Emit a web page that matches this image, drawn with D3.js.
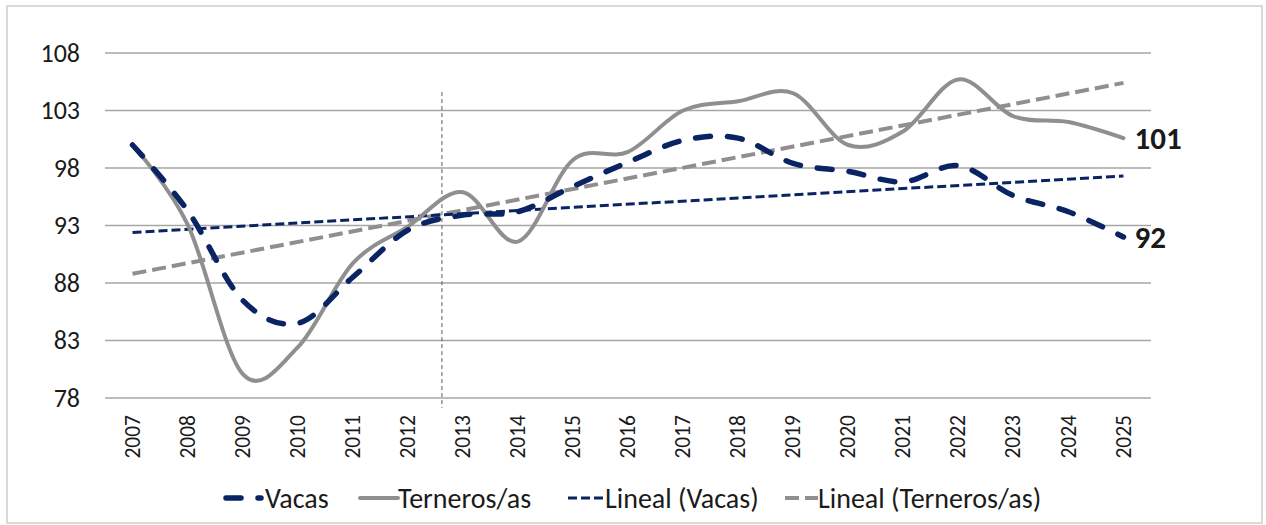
<!DOCTYPE html>
<html>
<head>
<meta charset="utf-8">
<script src="https://cdn.jsdelivr.net/npm/d3@7"></script>
<style>
  body { margin: 0; background: #fff; }
  text { font-family: Carlito, "Open Sans", sans-serif; fill: #1a1a1a; }
</style>
</head>
<body>
<div id="chart"></div>
<script>
let years = [2007, 2008, 2009, 2010, 2011, 2012, 2013, 2014, 2015, 2016, 2017, 2018, 2019, 2020, 2021, 2022, 2023, 2024, 2025];
let vacas = [100, 94.3, 86.5, 84.5, 88.5, 92.6, 93.9, 94.2, 96.4, 98.5, 100.4, 100.6, 98.4, 97.7, 96.8, 98.2, 95.6, 94.2, 92.0];
let terneros = [100, 93.1, 80.1, 82.4, 89.7, 92.9, 95.9, 91.6, 98.7, 99.4, 103.0, 103.8, 104.5, 100.0, 101.2, 105.7, 102.5, 102.0, 100.6];
// trend line ends (Excel linear trendline), first and last year
let linealVacas = [92.4, 97.3];
let linealTerneros = [88.8, 105.4];
let yTicks = [78, 83, 88, 93, 98, 103, 108];
let markerYear = 2012.62;
let endLabels = ['101', '92'];
let legendNames = ['Vacas', 'Terneros/as', 'Lineal (Vacas)', 'Lineal (Terneros/as)'];

let width = 1266, height = 525;
let navy = '#0a2463', gray = '#8f8f8f';

let svg = d3.select('#chart').append('svg')
  .attr('width', width).attr('height', height);

svg.append('rect')
  .attr('x', 7).attr('y', 6).attr('width', 1255).attr('height', 517)
  .attr('fill', '#fff').attr('stroke', '#d9d9d9').attr('stroke-width', 2);

let x = d3.scaleLinear().domain([2006.5, 2025.5]).range([105, 1151]);
let y = d3.scaleLinear().domain([78, 108]).range([398, 53]);

// gridlines
svg.append('g').selectAll('line')
  .data(yTicks).enter().append('line')
  .attr('x1', x(2006.5)).attr('x2', x(2025.5))
  .attr('y1', d => y(d)).attr('y2', d => y(d))
  .attr('stroke', '#a6a6a6').attr('stroke-width', 1.5);

// y labels
svg.append('g').selectAll('text')
  .data(yTicks).enter().append('text')
  .attr('x', 80).attr('y', d => y(d)).attr('dy', '0.34em')
  .attr('text-anchor', 'end')
  .style('font-size', '26px')
  .text(d => d);

// x labels
svg.append('g').selectAll('text')
  .data(years).enter().append('text')
  .attr('transform', d => 'translate(' + x(d) + ',415) rotate(-90)')
  .attr('dy', '0.33em')
  .attr('text-anchor', 'end')
  .style('font-size', '21.5px')
  .text(d => d);

// vertical marker
svg.append('line')
  .attr('x1', x(markerYear)).attr('x2', x(markerYear))
  .attr('y1', y(104.6)).attr('y2', y(78) + 10)
  .attr('stroke', '#595959').attr('stroke-width', 1)
  .attr('stroke-dasharray', '4 3');

let smooth = d3.line()
  .x((d, i) => x(years[i]))
  .y(d => y(d))
  .curve(d3.curveCardinal.tension(0));

let straight = d3.line()
  .x((d, i) => x(i == 0 ? years[0] : years[years.length - 1]))
  .y(d => y(d));

let styles = [
  {stroke: navy, width: 5.5, dash: '15 17', cap: 'round'},
  {stroke: gray, width: 4, dash: null, cap: 'round'},
  {stroke: navy, width: 3, dash: '9 4', cap: 'butt'},
  {stroke: gray, width: 4, dash: '14 6', cap: 'butt'}
];

function styleLine(sel, s) {
  sel.attr('fill', 'none')
    .attr('stroke', s.stroke)
    .attr('stroke-width', s.width)
    .attr('stroke-linecap', s.cap)
    .attr('stroke-dasharray', s.dash);
}

svg.append('path').attr('d', straight(linealTerneros)).call(styleLine, styles[3]);
svg.append('path').attr('d', straight(linealVacas)).call(styleLine, styles[2]);
svg.append('path').attr('d', smooth(terneros)).call(styleLine, styles[1]);
svg.append('path').attr('d', smooth(vacas)).call(styleLine, styles[0]);

// end labels
let lastX = x(years[years.length - 1]);
[terneros[terneros.length - 1], vacas[vacas.length - 1]].forEach(function(v, i) {
  svg.append('text')
    .attr('x', lastX + 11).attr('y', y(v)).attr('dy', '0.34em')
    .style('font-size', '31px').style('font-weight', 'bold')
    .attr('fill', '#000')
    .text(endLabels[i]);
});

// legend
let legendItems = [
  {sx: 226, sw: 35, tx: 265},
  {sx: 360, sw: 38, tx: 398},
  {sx: 568, sw: 37, tx: 605},
  {sx: 785, sw: 33, tx: 818}
];
let ly = 498;
legendItems.forEach(function(item, i) {
  svg.append('line')
    .attr('x1', item.sx).attr('x2', item.sx + item.sw)
    .attr('y1', ly).attr('y2', ly)
    .call(styleLine, styles[i]);
  svg.append('text')
    .attr('x', item.tx).attr('y', ly).attr('dy', '0.34em')
    .style('font-size', '28px')
    .text(legendNames[i]);
});
</script>
</body>
</html>
